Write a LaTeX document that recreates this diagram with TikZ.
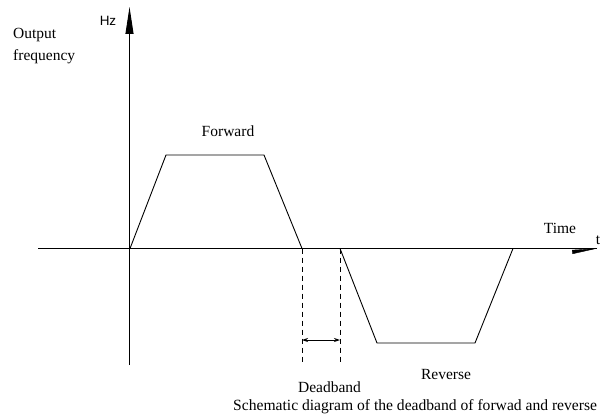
\documentclass[tikz,border=0pt]{standalone}
\usepackage{fontspec}
\setmainfont{Liberation Serif}
\newfontfamily\hzfont{Liberation Sans}
\usetikzlibrary{arrows.meta}
\begin{document}
\begin{tikzpicture}[x=1pt,y=-1pt,
  lbl/.style={inner sep=0pt,font=\fontsize{15.5}{22}\selectfont},
  curve/.style={line width=0.9pt,line join=miter},
  axis/.style={line width=0.9pt},
  dline/.style={line width=0.8pt,dash pattern=on 5pt off 4pt}]
\useasboundingbox (0,0) rectangle (604,417);
% axes
\coordinate (ybot) at (129.5,365);
\coordinate (ytop) at (129.5,7);
\coordinate (xl) at (38,248.5);
\coordinate (xr) at (597,248.5);
\draw[axis,-{Triangle[length=27pt,width=8pt]}] (ybot) -- (ytop);
\draw[axis] (xl) -- (xr);
\coordinate (xa) at (572,252);
\draw[-{Triangle[length=25pt,width=4pt]}] (xa) -- (xr);
% forward
\coordinate (f0) at (130,248.5);
\coordinate (f1) at (166,155);
\coordinate (f2) at (264,155);
\coordinate (f3) at (302,248.5);
\draw[curve] (f0) -- (f1) -- (f2) -- (f3);
% reverse
\coordinate (r0) at (340,248.5);
\coordinate (r1) at (377,343);
\coordinate (r2) at (475,343);
\coordinate (r3) at (513,248.5);
\draw[curve] (r0) -- (r1) -- (r2) -- (r3);
% deadband
\coordinate (d1b) at (302,365);
\coordinate (d2b) at (340,365);
\draw[dline] (f3) -- (d1b);
\draw[dline] (r0) -- (d2b);
\coordinate (a1) at (302,340);
\coordinate (a2) at (340,340);
\draw[line width=0.8pt,{Stealth[length=6pt,width=4pt]}-{Stealth[length=6pt,width=4pt]}] (a1) -- (a2);
% labels
\node[lbl,anchor=north west,align=left] (of) at (13,28) {Output\\frequency};
\node[lbl,anchor=center,font=\fontsize{13.5}{15}\selectfont] (hz) at (108,21) {\hzfont Hz};
\node[lbl] (fw) at (228,131) {Forward};
\node[lbl] (tm) at (560,228) {Time};
\node[lbl] (tt) at (598,240) {t};
\node[lbl] (db) at (329.5,387) {Deadband};
\node[lbl] (rv) at (446,374) {Reverse};
\node[lbl,anchor=base west,font=\fontsize{15.6}{18}\selectfont] (cap) at (233,410) {Schematic diagram of the deadband of forwad and reverse};
\end{tikzpicture}
\end{document}
